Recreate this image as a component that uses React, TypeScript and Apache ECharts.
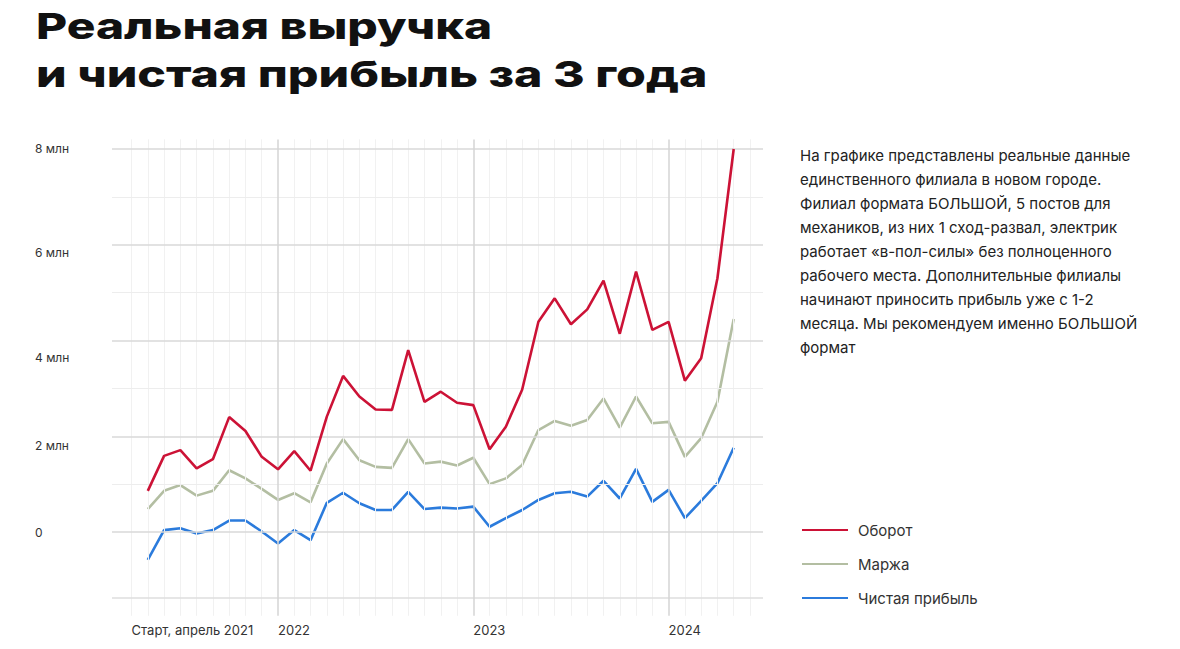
import { useEffect, useRef } from "react";
import * as echarts from "echarts";

// Values in millions of rubles, one point per month starting April 2021
const revenue = [0.86, 1.59, 1.71, 1.33, 1.52, 2.4, 2.11, 1.57, 1.31, 1.69, 1.28, 2.41, 3.26, 2.83, 2.56, 2.55, 3.8, 2.72, 2.93, 2.7, 2.65, 1.73, 2.2, 2.97, 4.39, 4.88, 4.34, 4.65, 5.25, 4.14, 5.44, 4.22, 4.39, 3.16, 3.63, 5.3, 8.0];
const margin = [0.48, 0.86, 0.98, 0.76, 0.86, 1.29, 1.12, 0.9, 0.67, 0.81, 0.62, 1.43, 1.94, 1.5, 1.36, 1.34, 1.94, 1.43, 1.47, 1.39, 1.55, 1.0, 1.12, 1.4, 2.13, 2.32, 2.22, 2.34, 2.79, 2.18, 2.83, 2.27, 2.3, 1.57, 1.96, 2.72, 4.45];
const netProfit = [-0.58, 0.04, 0.08, -0.03, 0.04, 0.24, 0.24, 0.01, -0.24, 0.04, -0.17, 0.61, 0.82, 0.6, 0.46, 0.46, 0.84, 0.48, 0.51, 0.49, 0.53, 0.11, 0.29, 0.46, 0.67, 0.81, 0.84, 0.74, 1.07, 0.7, 1.32, 0.63, 0.88, 0.29, 0.65, 1.02, 1.76];

const seriesNames = ["Оборот", "Маржа", "Чистая прибыль"];

// x positions are month indices (0 = first data month)
const xTickPositions = [-1, 8, 20, 32];
const xTickLabels = ["Старт, апрель 2021", "2022", "2023", "2024"];
const yearLines = [8, 20, 32];
const monthLines = [-1, 0, 1, 2, 3, 4, 5, 6, 7, 9, 10, 11, 12, 13, 14, 15, 16, 17, 18, 19, 21, 22, 23, 24, 25, 26, 27, 28, 29, 30, 31, 33, 34, 35, 36, 37];

const yTickValues = [0, 2, 4, 6, 8];
const yMajorLines = [0, 2, 4, 6, 8];
const yMinorLines = [1, 3, 5, 7];
const yBottomLine = [-1.375];

const titleLines = ["Реальная выручка", "и чистая прибыль за 3 года"];
const noteLines = [
  "На графике представлены реальные данные",
  "единственного филиала в новом городе.",
  "Филиал формата БОЛЬШОЙ, 5 постов для",
  "механиков, из них 1 сход-развал, электрик",
  "работает «в-пол-силы» без полноценного",
  "рабочего места. Дополнительные филиалы",
  "начинают приносить прибыль уже с 1-2",
  "месяца. Мы рекомендуем именно БОЛЬШОЙ",
  "формат",
];

const colors = ["#cc1236", "#b3bea2", "#2b7bdc"];
const FONT = "Inter, 'Noto Sans', sans-serif";

export default function App() {
  const ref = useRef<HTMLDivElement>(null);
  useEffect(() => {
    if (!ref.current) return;
    const chart = echarts.init(ref.current, undefined, { renderer: "svg" });
    const toPairs = (arr: number[]) => arr.map((v, i) => [i, v]);
    const yShift: Record<number, number> = { 0: 0, 2: 18, 4: 34, 6: 16, 8: 0 };
    const rich: Record<string, any> = {};
    yTickValues.forEach((v) => {
      rich["t" + v] = { fontSize: 12, color: "#333", fontFamily: FONT, padding: [yShift[v], 0, 0, 0] };
    });
    const option: any = {
      animation: false,
      backgroundColor: "#ffffff",
      grid: { left: 112, right: 417, top: 139.4, bottom: 33.2, containLabel: false },
      xAxis: {
        type: "value",
        min: -2.2,
        max: 37.8,
        axisLine: { show: false },
        axisTick: { show: false },
        splitLine: { show: false },
        axisLabel: {
          customValues: xTickPositions,
          formatter: (v: number) => xTickLabels[xTickPositions.indexOf(v)] ?? "",
          align: "left",
          margin: 8,
          fontSize: 13,
          color: "#333",
          fontFamily: FONT,
        },
      },
      yAxis: {
        type: "value",
        min: -1.75,
        max: 8.2,
        axisLine: { show: false },
        axisTick: { show: false },
        splitLine: { show: false },
        axisLabel: {
          customValues: yTickValues,
          formatter: (v: number) => `{t${v}|${v === 0 ? "0" : v + " млн"}}`,
          rich,
          align: "left",
          margin: 77,
          fontSize: 12,
          color: "#333",
          fontFamily: FONT,
        },
      },
      legend: {
        orient: "vertical",
        left: 802,
        top: 520,
        padding: 0,
        icon: "rect",
        itemWidth: 46,
        itemHeight: 2,
        itemGap: 14,
        data: seriesNames,
        textStyle: { fontSize: 15, color: "#333", fontFamily: FONT, lineHeight: 20, padding: [0, 0, 0, 5] },
      },
      graphic: [
        {
          type: "text",
          x: 36,
          y: 8,
          scaleX: 1.33,
          style: { text: titleLines[0], x: 0, y: 0, align: "left", verticalAlign: "top", fontSize: 36, fontWeight: 800, fill: "#111", fontFamily: FONT },
        },
        {
          type: "text",
          x: 36,
          y: 56,
          scaleX: 1.34,
          style: { text: titleLines[1], x: 0, y: 0, align: "left", verticalAlign: "top", fontSize: 36, fontWeight: 800, fill: "#111", fontFamily: FONT },
        },
        {
          type: "text",
          left: 800,
          top: 143,
          style: { text: noteLines.join("\n"), fontSize: 15, lineHeight: 24, fill: "#222", fontFamily: FONT },
        },
      ],
      series: [
        {
          name: "grid",
          type: "line",
          data: [],
          silent: true,
          z: 0,
          markLine: {
            silent: true,
            symbol: "none",
            label: { show: false },
            animation: false,
            data: [
              ...monthLines.map((x) => ({ xAxis: x, lineStyle: { color: "#f1f1f1", width: 1, type: "solid" } })),
              ...yMinorLines.map((y) => ({ yAxis: y, lineStyle: { color: "#ededed", width: 1, type: "solid" } })),
              ...yBottomLine.map((y) => ({ yAxis: y, lineStyle: { color: "#dedede", width: 1.5, type: "solid" } })),
              ...yMajorLines.map((y) => ({ yAxis: y, lineStyle: { color: "#d9d9d9", width: 1.5, type: "solid" } })),
              ...yearLines.map((x) => ({ xAxis: x, lineStyle: { color: "#d4d4d4", width: 1.5, type: "solid" } })),
            ],
          },
        },
        ...[revenue, margin, netProfit].map((arr, i) => ({
          name: seriesNames[i],
          type: "line",
          data: toPairs(arr),
          showSymbol: false,
          symbol: "none",
          z: 5 - i,
          lineStyle: { color: colors[i], width: 2.6 },
          itemStyle: { color: colors[i] },
        })),
      ],
    };
    chart.setOption(option);
    return () => chart.dispose();
  }, []);
  return (
    <div
      ref={ref}
      style={{ position: "fixed", left: 0, top: 0, width: 1180, height: 649, background: "#fff" }}
    />
  );
}
